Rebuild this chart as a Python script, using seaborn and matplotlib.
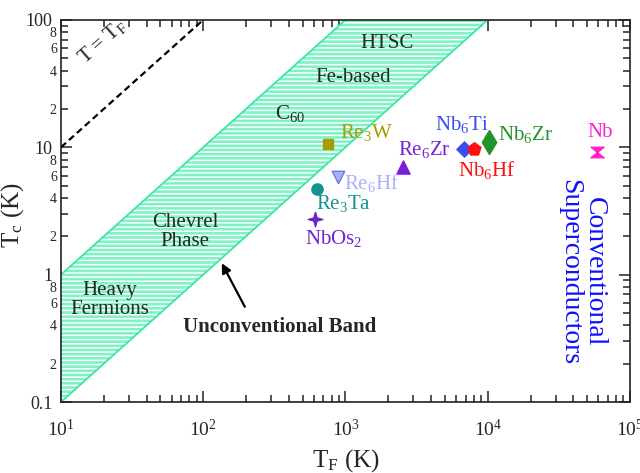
import numpy as np
import pandas as pd
import matplotlib
matplotlib.use("Agg")
import matplotlib.pyplot as plt
from matplotlib.ticker import LogLocator, FuncFormatter, NullFormatter
import seaborn as sns

# Fermi temperature and Tc of the compounds
names = ["Re$_3$W", "Re$_6$Zr", "Re$_6$Hf", "Re$_3$Ta", "NbOs$_2$",
         "Nb$_6$Ti", "Nb$_6$Hf", "Nb$_6$Zr", "Nb"]
t_fermi = [753, 2520, 890, 627, 611, 6840, 8040, 10260, 58300]
t_c = [10.6, 6.98, 5.89, 4.69, 2.72, 9.67, 9.7, 11.0, 9.25]
colors = ["#a59c00", "#7a1fd6", "#a8b0ff", "#139393", "#6f22d2",
          "#3b4cf5", "#ff1010", "#22922b", "#ff22cc"]
edge_colors = ["#a59c00", "#7a1fd6", "#6a78d8", "#139393", "#6f22d2",
               "#3b4cf5", "#ff1010", "#22922b", "#ff22cc"]

# label anchor for each compound (TF, Tc) and its alignment
label_x = [914, 3565, 1528, 966, 820, 6560, 9840, 11800, 62200]
label_y = [13.0, 9.55, 5.22, 3.59, 1.93, 15.0, 6.64, 12.5, 13.0]
label_ha = ["left", "center", "center", "center", "center",
            "center", "center", "left", "center"]

# unconventional band: Tc between TF/100 and TF/10
band_tf = [10, 1000, 10000]
band_upper = [1, 100, 100]
band_lower = [0.1, 10, 100]

# T = TF line
line_tf = [10, 100]
line_t = [10, 100]

star = [(0, 1), (0.22, 0.22), (1, 0), (0.22, -0.22), (0, -1),
        (-0.22, -0.22), (-1, 0), (-0.22, 0.22), (0, 1)]
hourglass = [(-1, 0.8), (1, 0.8), (0, 0), (1, -0.8), (-1, -0.8), (0, 0), (-1, 0.8)]
markers = ["s", "^", "v", "o", star, "D", "p", "d", hourglass]
sizes = [60, 90, 80, 65, 110, 60, 95, 150, 90]

sns.set_style("ticks")
plt.rcParams["font.family"] = ["Liberation Serif", "DejaVu Serif"]
plt.rcParams["mathtext.fontset"] = "custom"
plt.rcParams["mathtext.rm"] = "Liberation Serif"
plt.rcParams["mathtext.it"] = "Liberation Serif"
plt.rcParams["hatch.linewidth"] = 1.1

fig = plt.figure(figsize=(6.4, 4.73), dpi=100)
ax = fig.add_axes([0.0953, 0.150, 0.889, 0.808])
ax.set_xscale("log")
ax.set_yscale("log")
ax.set_xlim(10, 1e5)
ax.set_ylim(0.1, 100)

# hatched band
ax.fill_between(band_tf, band_lower, band_upper, facecolor="#7ff3c6",
                edgecolor="white", hatch="----", linewidth=0, zorder=1)
ax.plot([band_tf[0], band_tf[1]], [band_upper[0], band_upper[1]],
        color="#3ee6a2", lw=1.3, zorder=2)
ax.plot([band_tf[0], band_tf[2]], [band_lower[0], band_lower[2]],
        color="#3ee6a2", lw=1.3, zorder=2)

sns.lineplot(x=line_tf, y=line_t, ax=ax, color="black", lw=1.6,
             linestyle=(0, (3, 1.8)), zorder=3)

for i, n in enumerate(names):
    df = pd.DataFrame({"TF": [t_fermi[i]], "Tc": [t_c[i]]})
    sns.scatterplot(data=df, x="TF", y="Tc", ax=ax, marker=markers[i],
                    s=sizes[i], color=colors[i], edgecolor=edge_colors[i],
                    linewidth=1.0, zorder=5)
    ax.text(label_x[i], label_y[i], n, color=colors[i], fontsize=15,
            ha=label_ha[i], va="center", zorder=6)

# region labels
ax.text(19.5, 68, "T = T$_\\mathrm{F}$", rotation=41.5, fontsize=15,
        ha="center", va="center", rotation_mode="anchor")
ax.text(1950, 65.7, "HTSC", fontsize=15, ha="center", va="center")
ax.text(1135, 35.5, "Fe-based", fontsize=15, ha="center", va="center")
ax.text(407, 18.5, "C$_{60}$", fontsize=15, ha="center", va="center")
ax.text(74.5, 2.18, "Chevrel\nPhase", fontsize=15, ha="center",
        va="center", linespacing=1.0)
ax.text(22.1, 0.632, "Heavy\nFermions", fontsize=15, ha="center",
        va="center", linespacing=1.0)
ax.text(347, 0.388, "Unconventional Band", fontsize=15, fontweight="bold",
        ha="center", va="center")
ax.annotate("", xy=(135, 1.23), xytext=(196, 0.56),
            arrowprops=dict(arrowstyle="-|>", color="black", lw=1.6,
                            mutation_scale=14, shrinkA=0, shrinkB=0))
ax.text(46000, 1.05, "Conventional\nSuperconductors", color="#1010ff",
        fontsize=20, rotation=-90, ha="center", va="center",
        linespacing=1.0)

# axes, ticks and labels
for s in ax.spines.values():
    s.set_linewidth(1.2)
    s.set_color("#222222")
ax.xaxis.set_major_locator(LogLocator(base=10, numticks=10))
ax.xaxis.set_minor_locator(LogLocator(base=10, subs=np.arange(2, 10), numticks=10))
ax.xaxis.set_minor_formatter(NullFormatter())
ax.set_yticks([0.1, 1, 10, 100])
ax.yaxis.set_major_formatter(FuncFormatter(lambda v, p: f"{v:g}"))
ax.yaxis.set_minor_locator(LogLocator(base=10, subs=np.arange(2, 10), numticks=10))


def minor_label(v, p):
    lead = int(round(v / 10 ** np.floor(np.log10(v) + 1e-9)))
    return str(lead) if lead in (2, 4, 6, 8) else ""


ax.yaxis.set_minor_formatter(FuncFormatter(minor_label))
ax.tick_params(which="both", direction="in", top=True, right=True,
               color="#222222", width=1.1)
ax.tick_params(which="major", length=8)
ax.tick_params(which="minor", length=5)
ax.tick_params(axis="x", which="major", labelsize=14, pad=12)
ax.tick_params(axis="y", which="major", labelsize=13, pad=6)
ax.tick_params(axis="y", which="minor", labelsize=10, pad=3)
ax.set_xlabel("T$_\\mathrm{F}$ (K)", fontsize=18)
ax.set_ylabel("T$_\\mathrm{c}$ (K)", fontsize=18)
ax.xaxis.set_label_coords(0.5, -0.118)
ax.yaxis.set_label_coords(-0.062, 0.49)

fig.savefig("out.png", dpi=100)
